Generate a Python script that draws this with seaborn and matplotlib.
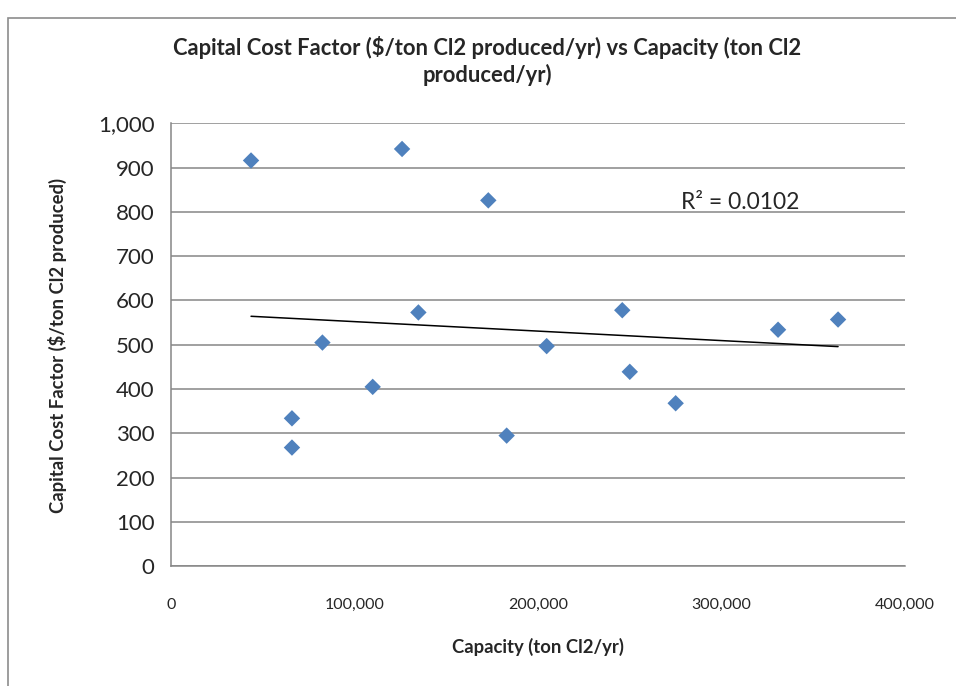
import numpy as np
import pandas as pd
import matplotlib
matplotlib.use('Agg')
from matplotlib import pyplot as plt
from matplotlib.patches import Rectangle
from matplotlib.ticker import FuncFormatter
import seaborn as sns

sns.set_style('white')
plt.rcParams['font.family'] = ['Lato', 'DejaVu Sans']

# Plant capacity [ton Cl2/yr] and capital cost factor [$/ton Cl2 produced]
capacity = [43600, 125900, 172900, 134800, 82500, 109900, 65900, 65900,
            182900, 245900, 204700, 250000, 275000, 330800, 363500]
cost_factor = [916, 942, 826, 573, 505, 405, 334, 268,
               295, 578, 497, 439, 368, 534, 557]
r2_label = 'R\u00b2 = 0.0102'

plants = pd.DataFrame({'Capacity': capacity, 'Cost factor': cost_factor})

fig = plt.figure(figsize=(9.56, 6.86), dpi=100)
ax = fig.add_axes([0.1789, 0.1745, 0.7678, 0.6458])

grid_col = '#868686'

sns.regplot(data=plants, x='Capacity', y='Cost factor', scatter=False, ci=None,
            truncate=True, color='black', line_kws={'lw': 1.1}, ax=ax)
sns.scatterplot(data=plants, x='Capacity', y='Cost factor', marker='D', s=70,
                color='#4F81BD', edgecolor='none', ax=ax, zorder=3)

ax.set_xlim(0, 400000)
ax.set_ylim(0, 1000)
ax.set_xticks(np.arange(0, 400001, 100000))
ax.set_yticks(np.arange(0, 1001, 100))
ax.xaxis.set_major_formatter(FuncFormatter(lambda v, p: '{:,.0f}'.format(v)))
ax.yaxis.set_major_formatter(FuncFormatter(lambda v, p: '{:,.0f}'.format(v)))
ax.yaxis.grid(True, color=grid_col, lw=1.1)
ax.set_axisbelow(True)
for side in ['top', 'right']:
    ax.spines[side].set_visible(False)
for side in ['left', 'bottom']:
    ax.spines[side].set_color(grid_col)
    ax.spines[side].set_linewidth(1.1)
ax.tick_params(axis='y', direction='out', length=5, width=1.1, color=grid_col,
               labelsize=16, pad=7)
ax.tick_params(axis='x', direction='out', length=5, width=1.1, color=grid_col,
               labelsize=11.5, pad=18)
ax.set_xlabel('')
ax.set_ylabel('')

ax.text(0.695, 0.822, r2_label, transform=ax.transAxes, fontsize=16.5, ha='left', va='center')

fig.text(0.51, 0.911, 'Capital Cost Factor ($/ton Cl2 produced/yr) vs Capacity (ton Cl2\nproduced/yr)',
         ha='center', va='center', fontsize=15.8, fontweight='bold', linespacing=1.3)
fig.text(0.563, 0.057, 'Capacity (ton Cl2/yr)', ha='center', va='center',
         fontsize=13.3, fontweight='bold')
fig.text(0.060, 0.497, 'Capital Cost Factor ($/ton Cl2 produced)', ha='center', va='center',
         rotation=90, fontsize=13.3, fontweight='bold')

# chart border
fig.add_artist(Rectangle((8 / 956, -0.1), 1.2, 1.1 - 18 / 686, transform=fig.transFigure,
                         fill=False, edgecolor='#8c8c8c', lw=1.2))

plt.savefig('out.png', dpi=100)
